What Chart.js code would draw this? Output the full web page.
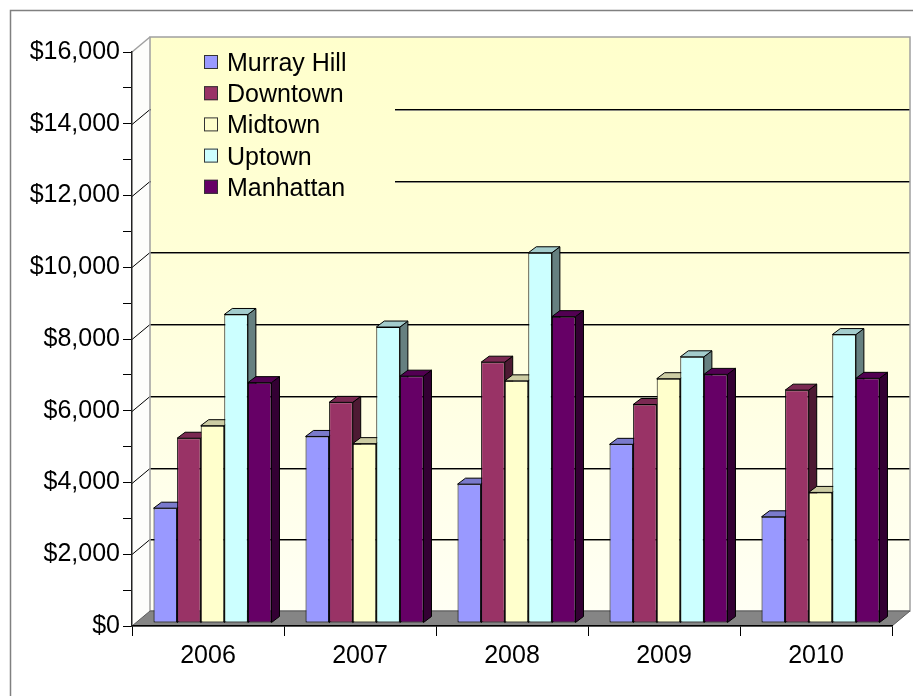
<!DOCTYPE html>
<html>
<head>
<meta charset="utf-8">
<title>Rent by neighborhood</title>
<script src="https://cdn.jsdelivr.net/npm/chart.js@4.4.1/dist/chart.umd.min.js"></script>
<style>
  html, body { margin: 0; padding: 0; background: #ffffff; }
  #wrap { width: 913px; height: 696px; position: relative; }
</style>
</head>
<body>
<div id="wrap"><canvas id="chart"></canvas></div>
<script>
// ---- data ----
const years = ['2006', '2007', '2008', '2009', '2010'];
const seriesNames = ['Murray Hill', 'Downtown', 'Midtown', 'Uptown', 'Manhattan'];
const murrayHill = [3200, 5200, 3870, 4980, 2960];
const downtown   = [5150, 6150, 7270, 6090, 6490];
const midtown    = [5500, 5000, 6750, 6810, 3640];
const uptown     = [8600, 8250, 10320, 7420, 8040];
const manhattan  = [6700, 6880, 8540, 6930, 6820];
const yMax = 16000;
const yLabelStep = 2000;
const yMinorStep = 1000;

// ---- styling ----
const FONT = "'Liberation Sans', Arial, Helvetica, sans-serif";
const faceColors = ['#9999FF', '#993366', '#FFFFCC', '#CCFFFF', '#660066'];
const WALL = { dx: 18, dy: -15 };     // depth of the back wall
const SHIFT = { x: 4.5, y: -3 };      // bars stand a little behind the front edge
const BOX = { dx: 8, dy: -6 };        // depth of each column

function shade(hex, f) {
  const n = parseInt(hex.slice(1), 16);
  const r = Math.round(((n >> 16) & 255) * f);
  const g = Math.round(((n >> 8) & 255) * f);
  const b = Math.round((n & 255) * f);
  return `rgb(${r},${g},${b})`;
}

function poly(ctx, pts) {
  ctx.beginPath();
  ctx.moveTo(pts[0][0], pts[0][1]);
  for (let i = 1; i < pts.length; i++) ctx.lineTo(pts[i][0], pts[i][1]);
  ctx.closePath();
}

// Walls, floor, gridlines and legend
const scenePlugin = {
  id: 'scene',
  beforeDraw(chart) {
    const { ctx, chartArea: a, scales: { y } } = chart;
    ctx.save();

    // outer frame
    ctx.strokeStyle = '#808080';
    ctx.lineWidth = 1.5;
    ctx.strokeRect(10.5, 10.5, chart.width + 40, chart.height + 40);

    const bl = a.left + WALL.dx, bt = a.top + WALL.dy;
    const br = a.right + WALL.dx, bb = a.bottom + WALL.dy;

    const grad = ctx.createLinearGradient(0, bt, 0, bb);
    grad.addColorStop(0, '#FFFFCC');
    grad.addColorStop(0.35, '#FFFFD6');
    grad.addColorStop(1, '#FFFFF4');

    // left side wall
    ctx.fillStyle = '#FDFDFB';
    poly(ctx, [[a.left, a.top], [bl, bt], [bl, bb], [a.left, a.bottom]]);
    ctx.fill();

    // back wall
    ctx.fillStyle = grad;
    ctx.fillRect(bl, bt, br - bl, bb - bt);

    // gridlines on the back and side walls
    for (let v = yLabelStep; v < yMax; v += yLabelStep) {
      const py = Math.round(y.getPixelForValue(v)) + 0.5;
      ctx.lineWidth = 1;
      ctx.strokeStyle = '#8a8a80';
      ctx.beginPath();
      ctx.moveTo(bl, py + WALL.dy + 1);
      ctx.lineTo(br, py + WALL.dy + 1);
      ctx.stroke();
      ctx.strokeStyle = '#000000';
      ctx.beginPath();
      ctx.moveTo(bl, py + WALL.dy);
      ctx.lineTo(br, py + WALL.dy);
      ctx.stroke();
      ctx.beginPath();
      ctx.moveTo(a.left, py);
      ctx.lineTo(bl, py + WALL.dy);
      ctx.stroke();
    }

    // wall edges
    ctx.strokeStyle = '#a0a0a0';
    ctx.lineWidth = 1.5;
    ctx.strokeRect(bl, bt, br - bl, bb - bt);
    ctx.beginPath();
    ctx.moveTo(a.left, a.top);
    ctx.lineTo(bl, bt);
    ctx.stroke();

    // floor
    ctx.fillStyle = '#858585';
    poly(ctx, [[a.left, a.bottom], [a.right, a.bottom], [br, bb], [bl, bb]]);
    ctx.fill();
    ctx.strokeStyle = '#5a5a5a';
    ctx.lineWidth = 1;
    ctx.stroke();

    // legend
    const lx = a.left + 72, ly = a.top + 10, rowH = 31.2;
    ctx.fillStyle = grad;
    ctx.fillRect(bl + 1, bt + 1, lx + 190 - bl, ly + rowH * 5 + 2 - bt);
    ctx.font = `25px ${FONT}`;
    ctx.textBaseline = 'alphabetic';
    ctx.textAlign = 'left';
    chart.data.datasets.forEach((ds, i) => {
      const cy = ly + rowH * i;
      ctx.fillStyle = ds.backgroundColor;
      ctx.fillRect(lx, cy - 7, 14, 14);
      ctx.strokeStyle = '#333333';
      ctx.lineWidth = 1;
      ctx.strokeRect(lx + 0.5, cy - 6.5, 13, 13);
      ctx.fillStyle = '#000000';
      ctx.fillText(ds.label, lx + 23, cy + 9);
    });

    ctx.restore();
  },
  beforeDatasetDraw() {
    // columns are drawn together below so neighbours overlap in the right order
    return false;
  },
  afterDatasetsDraw(chart) {
    const { ctx } = chart;
    ctx.save();
    ctx.translate(SHIFT.x, SHIFT.y);
    chart.data.datasets.forEach((ds, i) => {
      const meta = chart.getDatasetMeta(i);
      const top = shade(faceColors[i], 0.8);
      const side = shade(faceColors[i], 0.5);
      meta.data.forEach(el => {
        const { x, y, base, width } = el.getProps(['x', 'y', 'base', 'width'], true);
        const l = x - width / 2, r = x + width / 2;
        el.draw(ctx);
        ctx.lineWidth = 1;
        ctx.strokeStyle = '#000000';
        // side face
        ctx.fillStyle = side;
        poly(ctx, [[r, y], [r + BOX.dx, y + BOX.dy], [r + BOX.dx, base + BOX.dy], [r, base]]);
        ctx.fill();
        ctx.stroke();
        // top face
        ctx.fillStyle = top;
        poly(ctx, [[l, y], [l + BOX.dx, y + BOX.dy], [r + BOX.dx, y + BOX.dy], [r, y]]);
        ctx.fill();
        ctx.stroke();
      });
    });
    ctx.restore();
  }
};

const seriesValues = [murrayHill, downtown, midtown, uptown, manhattan];

new Chart(document.getElementById('chart'), {
  type: 'bar',
  data: {
    labels: years,
    datasets: seriesNames.map((name, i) => ({
      label: name,
      data: seriesValues[i],
      backgroundColor: faceColors[i],
      borderColor: '#000000',
      borderWidth: 1,
      borderSkipped: false,
      categoryPercentage: 0.776,
      barPercentage: 1.0,
      clip: false
    }))
  },
  options: {
    responsive: true,
    maintainAspectRatio: false,
    animation: false,
    events: [],
    layout: { padding: { left: 0, top: 52, right: 21, bottom: 0 } },
    plugins: {
      legend: { display: false },
      tooltip: { enabled: false },
      title: { display: false }
    },
    scales: {
      x: {
        offset: true,
        afterFit(scale) { scale.height = 70; },
        grid: {
          offset: true,
          drawOnChartArea: false,
          drawTicks: true,
          tickLength: 10,
          color: '#000000'
        },
        border: { color: '#000000', width: 1.5 },
        ticks: {
          color: '#000000',
          padding: 5,
          font: { family: FONT, size: 25 },
          maxRotation: 0
        }
      },
      y: {
        min: 0,
        max: yMax,
        afterFit(scale) { scale.width = 132; },
        grid: {
          drawOnChartArea: false,
          drawTicks: true,
          tickLength: 9,
          color: '#000000'
        },
        border: { color: '#222222', width: 1.5 },
        ticks: {
          stepSize: yMinorStep,
          autoSkip: false,
          color: '#000000',
          padding: 3,
          font: { family: FONT, size: 25 },
          callback: (v) => (v % yLabelStep === 0 ? '$' + v.toLocaleString('en-US') : '')
        }
      }
    }
  },
  plugins: [scenePlugin]
});
</script>
</body>
</html>
